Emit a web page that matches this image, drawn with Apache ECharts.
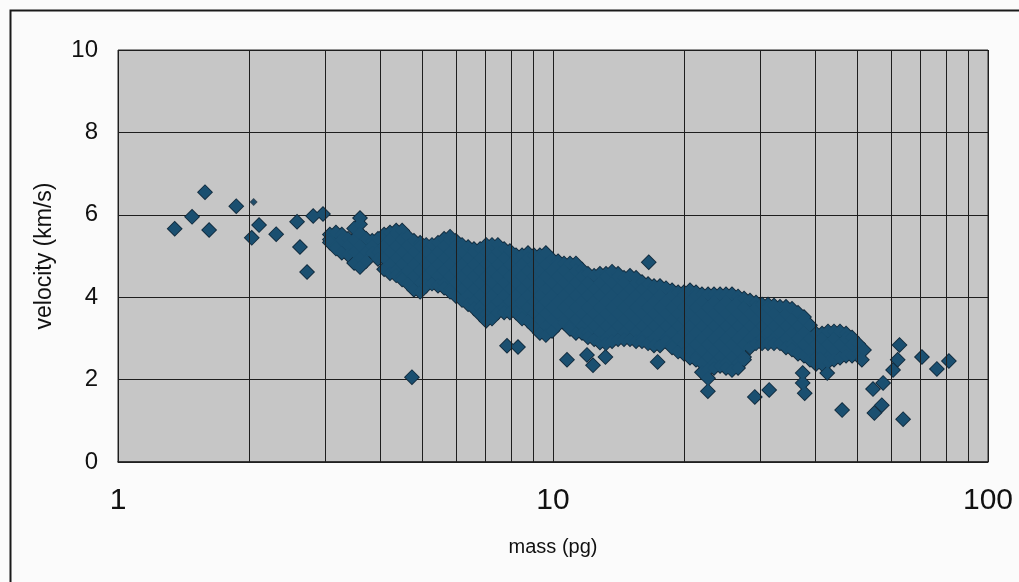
<!DOCTYPE html>
<html>
<head>
<meta charset="utf-8">
<script src="https://cdn.jsdelivr.net/npm/echarts@6/dist/echarts.min.js"></script>
<style>
html,body{margin:0;padding:0;background:#fbfbfb;}
#chart{width:1019px;height:582px;}
</style>
</head>
<body>
<div id="chart"></div>
<script>
// ---- data ----
const xTicks = [1, 10, 100];
const yTicks = [0, 2, 4, 6, 8, 10];
const minorGridX = [2, 3, 4, 5, 6, 7, 8, 9, 20, 30, 40, 50, 60, 70, 80, 90];

// dense cloud: mass columns and the velocities seen in each column
const blobMass = [3.07,3.17,3.27,3.38,3.49,3.60,3.72,3.84,3.96,4.09,4.22,4.36,4.50,4.64,4.79,4.95,5.11,5.27,5.44,5.62,
  5.80,5.98,6.18,6.38,6.58,6.80,7.02,7.24,7.47,7.72,7.96,8.22,8.49,8.76,9.04,9.33,9.63,9.95,10.27,10.6,
  10.94,11.29,11.66,12.03,12.43,12.82,13.24,13.67,14.11,14.56,15.03,15.52,16.02,16.54,17.07,17.62,18.19,18.78,19.39,20.0,
  20.65,21.32,22.0,22.72,23.45,24.21,24.99,25.79,26.63,27.49,28.37,29.29,30.24,31.21,32.21,33.25,34.33,35.43,36.58,37.76,
  38.98,40.24,41.54,42.88,44.26,45.69,47.17,48.69,50.25,51.88];
const blobVel = [
  [5.52,5.4,5.33],[5.57,5.25,5.18],[5.52,5.4,5.08],[5.42,5.25,5.03],[5.67,5.4,5.1,4.83],
  [5.77,5.55,5.25,4.95,4.73],[5.42,5.1,4.88],[5.37,5.25,5.08],[5.42,5.1,4.93],[5.52,5.25,4.95,4.68],
  [5.57,5.4,5.1,4.8,4.58],[5.62,5.55,5.25,4.95,4.65,4.53],[5.62,5.4,5.1,4.8,4.5,4.43],[5.47,5.25,4.95,4.65,4.33],[5.37,5.1,4.8,4.5,4.18],
  [5.32,5.25,4.95,4.65,4.35,4.13],[5.27,5.1,4.8,4.5,4.28],[5.27,4.95,4.65,4.33],[5.32,5.1,4.8,4.5,4.28],[5.42,5.25,4.95,4.65,4.35,4.23],
  [5.47,5.4,5.1,4.8,4.5,4.2,4.13],[5.37,5.25,4.95,4.65,4.35,4.03],[5.27,5.1,4.8,4.5,4.2,3.93],[5.22,4.95,4.65,4.35,4.05,3.83],[5.17,5.1,4.8,4.5,4.2,3.9,3.73],
  [5.17,4.95,4.65,4.35,4.05,3.75,3.58],[5.27,5.1,4.8,4.5,4.2,3.9,3.6,3.43],[5.27,4.95,4.65,4.35,4.05,3.75,3.48],[5.27,5.1,4.8,4.5,4.2,3.9,3.63],[5.17,4.95,4.65,4.35,4.05,3.75,3.63],
  [5.12,4.8,4.5,4.2,3.9,3.63],[5.02,4.95,4.65,4.35,4.05,3.75,3.63],[5.02,4.8,4.5,4.2,3.9,3.6,3.48],[5.07,4.95,4.65,4.35,4.05,3.75,3.43],[5.02,4.8,4.5,4.2,3.9,3.6,3.28],
  [5.02,4.95,4.65,4.35,4.05,3.75,3.45,3.13],[5.07,4.8,4.5,4.2,3.9,3.6,3.3,3.08],[4.92,4.65,4.35,4.05,3.75,3.45,3.18],[4.87,4.8,4.5,4.2,3.9,3.6,3.33],[4.82,4.65,4.35,4.05,3.75,3.45,3.38],
  [4.82,4.5,4.2,3.9,3.6,3.3,3.23],[4.82,4.65,4.35,4.05,3.75,3.45,3.13],[4.67,4.5,4.2,3.9,3.6,3.3,3.13],[4.57,4.35,4.05,3.75,3.45,3.15,3.03],[4.52,4.2,3.9,3.6,3.3,2.98],
  [4.57,4.35,4.05,3.75,3.45,3.15,2.9],[4.57,4.5,4.2,3.9,3.6,3.3,3.0,2.88],[4.62,4.35,4.05,3.75,3.45,3.15,2.93],[4.57,4.5,4.2,3.9,3.6,3.3,2.98],[4.47,4.35,4.05,3.75,3.45,3.15,2.98],
  [4.52,4.2,3.9,3.6,3.3,2.98],[4.47,4.35,4.05,3.75,3.45,3.15,2.93],[4.37,4.2,3.9,3.6,3.3,3.0,2.93],[4.32,4.05,3.75,3.45,3.15,2.88],[4.27,4.2,3.9,3.6,3.3,3.0,2.83],
  [4.27,4.05,3.75,3.45,3.15,2.83],[4.22,3.9,3.6,3.3,3.0,2.93],[4.17,4.05,3.75,3.45,3.15,2.85,2.78],[4.12,3.9,3.6,3.3,3.0,2.68],[4.12,4.05,3.75,3.45,3.15,2.85,2.63],
  [4.17,3.9,3.6,3.3,3.0,2.7,2.53],[4.12,4.05,3.75,3.45,3.15,2.85,2.55,2.48],[4.07,3.9,3.6,3.3,3.0,2.7,2.4,2.18],[4.07,3.75,3.45,3.15,2.85,2.55,2.25,2.03],[4.07,3.9,3.6,3.3,3.0,2.7,2.4,2.28],
  [4.07,3.75,3.45,3.15,2.85,2.55,2.33],[4.07,3.9,3.6,3.3,3.0,2.7,2.4,2.28],[4.07,3.75,3.45,3.15,2.85,2.55,2.23],[4.02,3.9,3.6,3.3,3.0,2.7,2.4,2.28],[3.97,3.75,3.45,3.15,2.85,2.55,2.48],
  [3.92,3.6,3.3,3.0,2.78],[3.87,3.75,3.45,3.15,2.88],[3.82,3.6,3.3,3.0,2.88],[3.82,3.75,3.45,3.15,2.88],[3.8,3.6,3.3,3.0,2.88],
  [3.77,3.45,3.15,2.88],[3.77,3.6,3.3,3.0,2.78],[3.72,3.45,3.15,2.85,2.73],[3.62,3.3,3.0,2.7,2.63],[3.52,3.45,3.15,2.85,2.58],
  [3.32,3.0,2.7,2.48],[3.12,2.85,2.55,2.38],[3.12,3.0,2.7,2.38],[3.17,2.85,2.55,2.43],[3.17,3.0,2.7,2.48],
  [3.17,2.85,2.53],[3.12,3.0,2.7,2.58],[3.02,2.85,2.58],[2.87,2.7,2.63],[2.72]
];

// scattered points outside the cloud
const outlierMass = [1.35,1.48,1.585,1.62,1.87,2.03,2.11,2.31,2.58,2.62,2.72,2.81,2.96,3.6,4.74,7.84,8.31,16.6,10.77,11.97,
  12.36,13.2,17.4,22.7,29.1,31.4,37.9,37.5,37.5,41.1,42.7,46.2,51.3,54.4,57.4,54.8,57.0,63.8,60.5,62.0,62.6,70.5,76.3,81.3];
const outlierVel = [5.66,5.95,6.55,5.63,6.21,5.44,5.75,5.53,5.83,5.22,4.61,5.97,6.02,5.92,2.06,2.82,2.79,4.85,2.48,2.6,
  2.35,2.55,2.43,1.72,1.58,1.75,1.67,1.92,2.16,2.52,2.16,1.26,2.48,1.77,1.92,1.19,1.38,1.04,2.23,2.48,2.84,2.55,2.26,2.45];

// one tiny marker
const smallMass = [2.05];
const smallVel = [6.31];

// ---- build ----
const points = [];
blobMass.forEach((m, i) => blobVel[i].forEach(v => points.push([m, v])));
outlierMass.forEach((m, i) => points.push([m, outlierVel[i]]));
const smallPts = smallMass.map((m, i) => [m, smallVel[i]]);

const FONT = '"Liberation Sans", Arial, sans-serif';
const chart = echarts.init(document.getElementById('chart'), null, {renderer: 'canvas'});
chart.setOption({
  animation: false,
  backgroundColor: '#fbfbfb',
  textStyle: {fontFamily: FONT, color: '#111'},
  grid: {left: 118, right: 31, top: 50, bottom: 120, show: true,
    backgroundColor: '#c6c6c6', borderColor: '#2a2a2a', borderWidth: 1},
  xAxis: {
    type: 'log', logBase: 10, min: xTicks[0], max: xTicks[xTicks.length - 1],
    name: 'mass (pg)', nameLocation: 'middle', nameGap: 75,
    nameTextStyle: {fontSize: 20, color: '#111', fontFamily: FONT},
    axisLine: {show: true, lineStyle: {color: '#222', width: 1.5}},
    axisTick: {show: false},
    axisLabel: {fontSize: 30, margin: 24, color: '#111', fontFamily: FONT},
    splitLine: {show: true, lineStyle: {color: '#1e1e1e', width: 1}}
  },
  yAxis: {
    type: 'value', min: yTicks[0], max: yTicks[yTicks.length - 1], interval: 2,
    name: 'velocity (km/s)', nameLocation: 'middle', nameGap: 62, nameRotate: 90,
    nameTextStyle: {fontSize: 23, color: '#111', fontFamily: FONT},
    axisLine: {show: false}, axisTick: {show: false},
    axisLabel: {fontSize: 24, margin: 20, color: '#111', fontFamily: FONT},
    splitLine: {show: true, lineStyle: {color: '#1e1e1e', width: 1}}
  },
  graphic: [{
    type: 'rect', left: 8, top: 8, shape: {width: 1100, height: 700},
    style: {fill: 'none', stroke: '#1a1a1a', lineWidth: 2}, silent: true, z: 0
  }],
  series: [
    {
      type: 'scatter', data: [], z: 1, silent: true,
      markLine: {
        silent: true, symbol: ['none', 'none'], label: {show: false}, animation: false,
        lineStyle: {color: '#1e1e1e', width: 1, type: 'solid'},
        emphasis: {disabled: true},
        data: minorGridX.map(v => ({xAxis: v}))
      }
    },
    {
      type: 'scatter', data: points, z: 3, symbol: 'diamond', symbolSize: 16,
      progressive: 0, silent: true,
      itemStyle: {color: '#10283a', opacity: 1}
    },
    {
      type: 'scatter', data: smallPts, z: 3, symbol: 'diamond', symbolSize: 8,
      silent: true, itemStyle: {color: '#10283a'}
    },
    {
      type: 'scatter', data: points, z: 4, symbol: 'diamond', symbolSize: 13.6,
      progressive: 0, silent: true,
      itemStyle: {color: '#1a4f70', opacity: 1}
    },
    {
      type: 'scatter', data: smallPts, z: 4, symbol: 'diamond', symbolSize: 5.5,
      silent: true, itemStyle: {color: '#1a4f70'}
    }
  ]
});
</script>
</body>
</html>
